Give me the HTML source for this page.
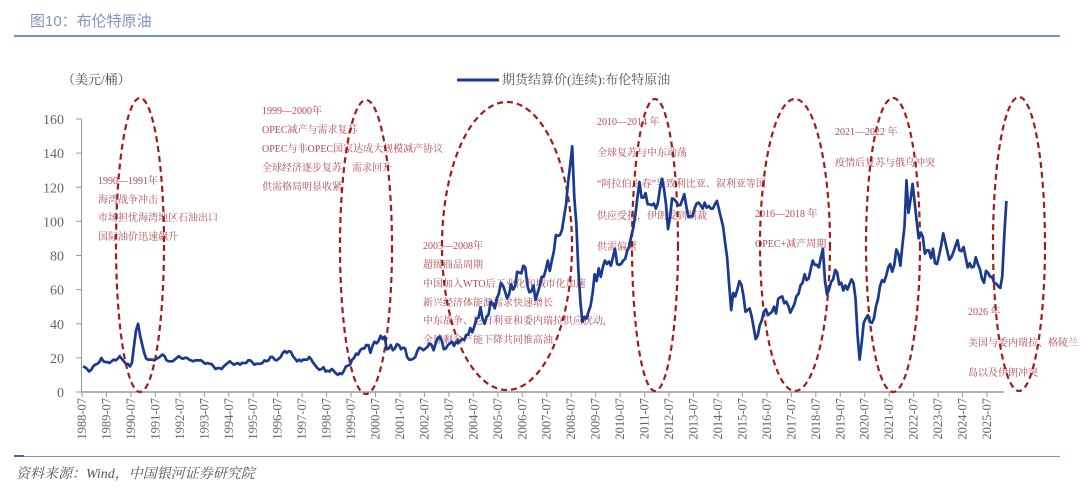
<!DOCTYPE html>
<html><head><meta charset="utf-8"><style>
body{margin:0;background:#fff;}
#wrap{position:relative;width:1080px;height:488px;overflow:hidden;background:#fff;font-family:"Liberation Serif","Noto Serif CJK SC",serif;}
</style></head><body>
<div id="wrap">
<svg id="svg" width="1080" height="488" xmlns="http://www.w3.org/2000/svg">
  <text x="30" y="26" font-size="15" fill="#7f93c4" font-family="Liberation Sans, Noto Sans CJK SC, sans-serif">图10：布伦特原油</text>
  <rect x="14" y="35" width="1046" height="2" fill="#7b8fc0"/>
  <text x="62" y="84" font-size="13" fill="#444">（美元/桶）</text>
  <g>
    <line x1="457" y1="80" x2="499" y2="80" stroke="#1a3a8f" stroke-width="3"/>
    <text x="502" y="84" font-size="13" fill="#555">期货结算价(连续):布伦特原油</text>
  </g>
  <g id="axes"></g>
  <g id="ann"></g>
  <g id="series"></g>
  <rect x="14" y="456" width="1046" height="1" fill="#7b8fc0"/>
  <rect x="14" y="455" width="10" height="2" fill="#4f65a0"/>
  <text x="16" y="478" font-size="14" font-style="italic" fill="#555">资料来源：Wind，中国银河证券研究院</text>
</svg>
</div>
<script>
const startYear = 1988, startMonth = 7;
const yTicks = [0,20,40,60,80,100,120,140,160];
const xTickYears = [];
for (let y=1988;y<=2025;y++) xTickYears.push(y);
const prices = [
15,14.5,13.5,12,13,15,
16,16.5,17.5,20,18,17.5,17.5,17,18,19,18.5,19.5,
21,19.5,18,16.5,16.5,15,17,27,36,40,33,28,
23,19.5,19,19,19,18.5,19.5,20,21,22,21,18.5,
18,18,18,19,20,21,20,19.5,20,20,19,18.5,
18,18.5,18.5,18.5,18.5,17.5,16.5,17,16.5,16.5,15,13.5,
14,14,13.5,15,16,17,18,17,16,16.5,17,16,
17,17,17,18.5,18.5,17.5,16,16.5,16.5,16.5,17,18.5,
18,18.5,20.5,20.5,19,18.5,19.5,20.5,23,24,23,24,
23.5,21,19.5,18,19,18,19,19,19,20.5,19,17,
15.5,14,13,13.5,14.5,12,12.5,12,13.5,12.5,11,10,
11,10.5,12.5,15,15.5,16,19,20,22.5,22,24.5,25.5,
25.5,27.5,27.5,23,27,29.5,28.5,30,33,31,32.5,25,
25.5,27.5,24.5,25.5,28,27.5,25,26,25.5,20.5,19,19,
19.5,20.5,24,26,25.5,24.5,25.5,26.5,28.5,27.5,24.5,28.5,
31.5,32.5,30,25,25.5,27.5,28.5,29.5,27,29.5,28.5,30,
31,30.5,33.5,33.5,37.5,35,38.5,43,43.5,49.5,43,40,
44,45.5,53,52,49,55,57.5,64,62.5,59,55,57,
63,60,62,70.5,70,69.5,74,73,62.5,58.5,59,62.5,
54,58,62,67.5,67.5,71.5,77,71,77,82.5,92,91.5,
92,95,103,110,123,133,144,114,99,72,53,41,
44,43,47,50.5,58,69,65,72.5,67.5,73,77,75,
76.5,74,79,84,75,74.5,75,77,78,83,85.5,91.5,
96.5,104,114,123,114,114,116.5,110,110,109.5,110.5,107.5,
110.5,119,125,119.5,110,95.5,102.5,113.5,113,111.5,109.5,109.5,
112.5,116,108.5,102.5,103,103,107.5,110.5,111,109.5,107.5,111,
108,109,107.5,107.5,110,112,107,102,97,87.5,79,62.5,
48,58,56,60,65,63,56.5,47,48,49,44.5,38,
31,33,39,42,47,48.5,45,46,47,50,46,54.5,
55.5,56,52,53,50.5,46.5,49,51.5,56,57.5,62.5,64,
69,65.5,66.5,72,77,74.5,74.5,73,79,84,65,57,
60,64.5,66,71.5,70,63,64,59.5,62.5,60,63,66,
64,55,33,19,29,40.5,43,45,41,40.5,43,50,
54.5,62,65.5,64.5,68,73,75,70.5,74.5,83.5,81,74,
86,97,124,105,113,122,111,100,90,93.5,91,81,
83,83,78.5,84,75.5,75,80,86,93,88,82.5,77.5,
79,82,85.5,89,83,82.5,85,79,73,75.5,73,73.5,
79,75,72,66.5,64,71,70,67.5,67.5,64,63.5,62,
61,68,92,112
];
const annotations = [
 {x:98,y:[184,203,221,240],t:["1990—1991年","海湾战争冲击","市场担忧海湾地区石油出口","国际油价迅速飙升"]},
 {x:262,y:[114,133,152,171,190],t:["1999—2000年","OPEC减产与需求复苏","OPEC与非OPEC国家达成大规模减产协议","全球经济逐步复苏，需求回升","供需格局明显收紧"]},
 {x:423,y:[249,268,287,306,324,343],t:["2003—2008年","超级商品周期","中国加入WTO后工业化和城市化加速","新兴经济体能源需求快速增长","中东战争、尼日利亚和委内瑞拉供应扰动,","全球剩余产能下降共同推高油"]},
 {x:597,y:[125,156,187,219,250],t:["2010—2014 年","全球复苏与中东动荡","“阿拉伯之春”导致利比亚、叙利亚等国","供应受损，伊朗受到制裁","供需偏紧"]},
 {x:755,y:[217,247],t:["2016—2018 年","OPEC+减产周期"]},
 {x:835,y:[135,166],t:["2021—2022 年","疫情后复苏与俄乌冲突"]},
 {x:968,y:[315,346,376],t:["2026 年","美国与委内瑞拉、格陵兰","岛以及伊朗冲突"]}
];
const ellipses = [[140,245,24,147],[366,247,26,147],[507,246,65,144],[655,245,23,146],[795,245,35,146],[893,245,27,147],[1019,244,26,147]];

const NS="http://www.w3.org/2000/svg";
const X0=82, PX_PER_YEAR=24.46, Y0=392, Y1=119, VMAX=160;
const xs=t=>X0+(t-(startYear+(startMonth-1)/12))*PX_PER_YEAR;
const ys=v=>Y0-v*(Y0-Y1)/VMAX;
function mk(tag,attrs,parent){const e=document.createElementNS(NS,tag);for(const k in attrs)e.setAttribute(k,attrs[k]);parent.appendChild(e);return e;}
const axes=document.getElementById('axes');
let e=mk('line',{x1:81.5,y1:Y1,x2:81.5,y2:Y0,stroke:'#999','stroke-width':1},axes);


e=mk('line',{x1:81.5,y1:Y0,x2:1004,y2:Y0,stroke:'#999','stroke-width':1.5},axes);


yTicks.forEach(v=>{
  const t=mk('line',{x1:76,y1:ys(v),x2:81.5,y2:ys(v),stroke:'#999'},axes);
  
  
  const l=mk('text',{x:64,y:ys(v)+5,'text-anchor':'end','font-size':14,fill:'#666'},axes);
  l.textContent=v;
  
  
});
xTickYears.forEach(yr=>{
  const x=xs(yr+6/12);
  const t=mk('line',{x1:x,y1:Y0,x2:x,y2:Y0+5,stroke:'#999'},axes);
  
  
  const l=mk('text',{transform:`translate(${x+4},${Y0+6}) rotate(-90)`,'text-anchor':'end','font-size':12.5,fill:'#666'},axes);
  l.textContent=yr+'-07';
  
  
});
const ann=document.getElementById('ann');
annotations.forEach(a=>{a.t.forEach((s,i)=>{
  const l=mk('text',{x:a.x,y:a.y[i],'font-size':10,fill:'#ad4a52'},ann);
  l.textContent=s;
  
  
});});
ellipses.forEach(p=>{
  const el=mk('ellipse',{cx:p[0],cy:p[1],rx:p[2],ry:p[3],fill:'none',stroke:'#a01c1c','stroke-width':2.2,'stroke-dasharray':'6 4'},ann);
  
  
});
let d='';
prices.forEach((v,i)=>{
  const m=startMonth-1+i;
  const t=startYear+(m+0.5)/12;
  d+=(i?'L':'M')+xs(t).toFixed(1)+','+ys(v).toFixed(1);
});
const path=mk('path',{d:d,fill:'none',stroke:'#1a3a8f','stroke-width':2.7,'stroke-linejoin':'round'},document.getElementById('series'));


</script>
</body></html>
